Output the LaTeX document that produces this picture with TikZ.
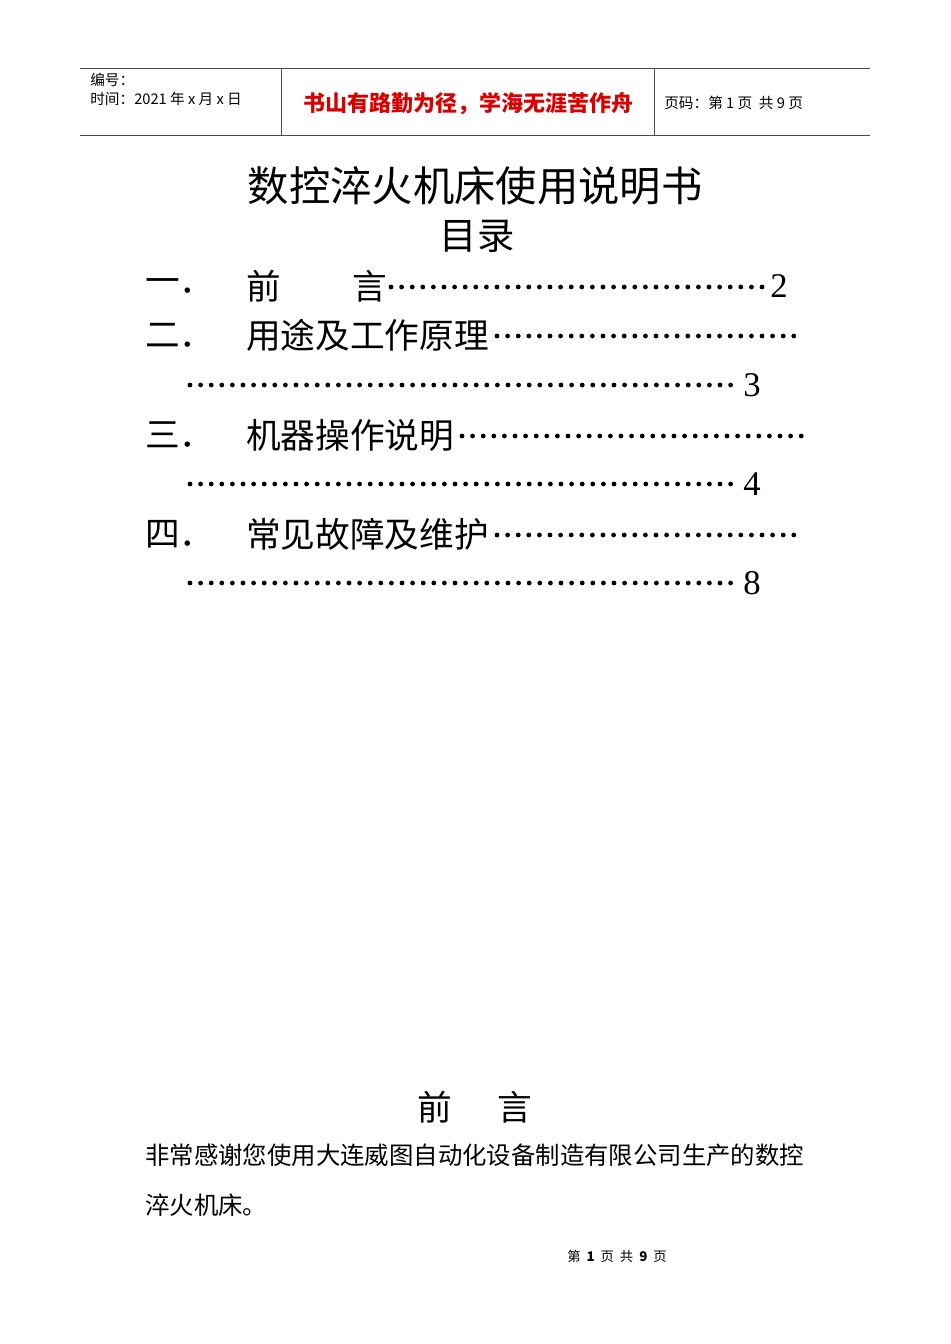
\documentclass[tikz,border=0pt]{standalone}
\usepackage{fontspec}
\setmainfont{Noto Sans CJK SC}
\newfontfamily\numf{Liberation Serif}
\begin{document}
\begin{tikzpicture}[x=0.75pt,y=-0.75pt,
  lab/.style={inner sep=0pt,anchor=west},
  toc/.style={inner sep=0pt,anchor=west,font=\fontsize{26}{26}\selectfont},
  rule/.style={line width=0.6pt,black!70}]
\useasboundingbox (0,0) rectangle (950,1344);
\fill[white] (0,0) rectangle (950,1344);
% header
\draw[rule] (80,68) -- (870,68);
\draw[rule] (80,135) -- (870,135);
\draw[rule] (281,68) -- (281,135);
\draw[rule] (654,68) -- (654,135);
\node[lab,font=\fontsize{11}{11}\selectfont] (h1) at (90,80) {编号：};
\node[lab,font=\fontsize{11}{11}\selectfont] (h2) at (90,99) {时间：2021 年 x 月 x 日};
\node[inner sep=0pt,text=red!85!black,font=\fontsize{16.5}{17}\selectfont\bfseries] (motto) at (468,104) {书山有路勤为径，学海无涯苦作舟};
\node[lab,font=\fontsize{11}{11}\selectfont] (pg) at (664,103) {页码：第 1 页\ \ 共 9 页};
% title
\node[inner sep=0pt,font=\fontsize{31}{31}\selectfont] (title) at (475,186) {数控淬火机床使用说明书};
\node[inner sep=0pt,font=\fontsize{28}{28}\selectfont] (mulu) at (477,236) {目录};
% toc
\node[toc] (n1) at (145,286) {一．};
\node[toc] (t1) at (246,286) {前};
\node[toc] (t1b) at (352,286) {言};
\foreach \x in {391,401.6,...,765} \fill (\x,287) circle (2.4);
\node[toc,font=\numf\fontsize{26}{26}\selectfont] (p1) at (770,286) {2};

\node[toc] (n2) at (145,335) {二．};
\node[toc] (t2) at (246,335) {用途及工作原理};
\foreach \x in {497,507.6,...,803} \fill (\x,336) circle (2.4);
\foreach \x in {190,200.6,...,738} \fill (\x,385) circle (2.4);
\node[toc,font=\numf\fontsize{26}{26}\selectfont] (p2) at (743,385) {3};

\node[toc] (n3) at (145,435) {三．};
\node[toc] (t3) at (246,435) {机器操作说明};
\foreach \x in {462,472.6,...,803} \fill (\x,436) circle (2.4);
\foreach \x in {190,200.6,...,738} \fill (\x,484) circle (2.4);
\node[toc,font=\numf\fontsize{26}{26}\selectfont] (p3) at (743,484) {4};

\node[toc] (n4) at (145,534) {四．};
\node[toc] (t4) at (246,534) {常见故障及维护};
\foreach \x in {497,507.6,...,803} \fill (\x,535) circle (2.4);
\foreach \x in {190,200.6,...,738} \fill (\x,583) circle (2.4);
\node[toc,font=\numf\fontsize{26}{26}\selectfont] (p4) at (743,583) {8};
% preface
\node[inner sep=0pt,font=\fontsize{26}{26}\selectfont] (qy) at (475,1107) {前\hspace{1.3em}言};
\node[lab,font=\fontsize{18.3}{19}\selectfont] (b1) at (145,1155) {非常感谢您使用大连威图自动化设备制造有限公司生产的数控};
\node[lab,font=\fontsize{18.3}{19}\selectfont] (b2) at (145,1205) {淬火机床。};
\node[inner sep=0pt,font=\fontsize{10}{10}\selectfont] (foot) at (617,1256) {第\ \ \textbf{1}\ \ 页\ \ 共\ \ \textbf{9}\ \ 页};
\end{tikzpicture}
\end{document}
